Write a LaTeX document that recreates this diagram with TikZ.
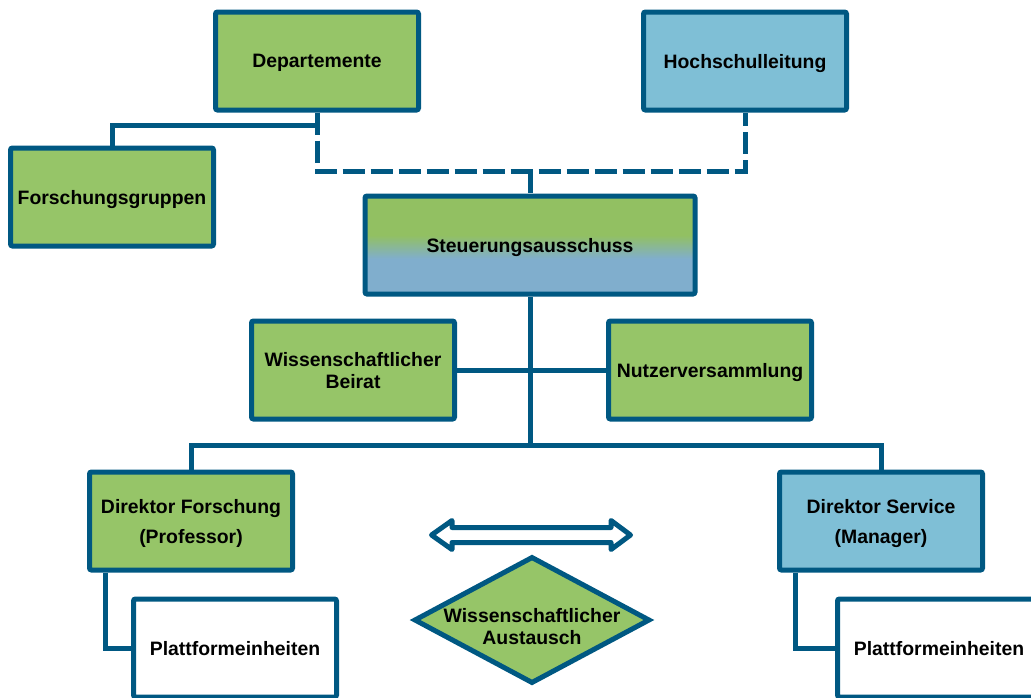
\documentclass[tikz,border=0pt]{standalone}
\usepackage{fontspec}
\setmainfont{Liberation Sans}
\usetikzlibrary{shapes.geometric}
\definecolor{linie}{RGB}{0,88,130}
\definecolor{gruen}{RGB}{150,197,104}
\definecolor{blau}{RGB}{127,191,214}
\definecolor{sgruen}{RGB}{146,192,98}
\definecolor{sblau}{RGB}{128,174,205}
\pgfdeclareverticalshading{gruenblau}{100bp}{color(0bp)=(sblau); color(43bp)=(sblau); color(55bp)=(sgruen); color(100bp)=(sgruen)}
\tikzset{kasten/.style={draw=linie, line width=5pt, rounded corners=2pt, minimum width=203pt, minimum height=98pt, inner sep=0pt, text depth=0pt, align=center, text=black, font=\bfseries\fontsize{19.4}{22}\selectfont},
 verbindung/.style={linie, line width=5pt},
 gestrichelt/.style={verbindung, dash pattern=on 22pt off 6pt}}

\begin{document}
\begin{tikzpicture}[x=1pt,y=-1pt]
   \useasboundingbox (0,0) rectangle (1031,697);
   % obere Ebene
   \node[kasten, fill=gruen] (dep) at (317,61) {Departemente};
   \node[kasten, fill=blau]  (hsl) at (745,61) {Hochschulleitung};
   \node[kasten, fill=gruen] (fg)  at (112,197) {Forschungsgruppen};
   \node[kasten, shading=gruenblau, minimum width=330pt] (steu) at (530,245) {Steuerungsausschuss};
   % Gremien
   \node[kasten, fill=gruen] (wb) at (353,370) {Wissenschaftlicher\\Beirat};
   \node[kasten, fill=gruen] (nv) at (710,370) {Nutzerversammlung};
   % Direktoren
   \node[kasten, fill=gruen] (dfo) at (191,521) {Direktor Forschung\\[8pt](Professor)};
   \node[kasten, fill=blau]  (dse) at (881,521) {Direktor Service\\[8pt](Manager)};
   \node[kasten, fill=white] (pf1) at (235,648) {Plattformeinheiten};
   \node[kasten, fill=white] (pf2) at (939,648) {Plattformeinheiten};
   % Austausch
   \node[diamond, draw=linie, fill=gruen, line width=5pt, minimum width=236pt, minimum height=127pt, inner sep=0pt] (aus) at (532,620) {};
   \node[font=\bfseries\fontsize{19.4}{22}\selectfont, align=center, inner sep=0pt] (austext) at (532,627) {Wissenschaftlicher\\Austausch};
   \draw[verbindung, fill=white, line join=round] (431.5,535) -- (452,520.5) -- (452,527.5) -- (611,527.5) -- (611,520.5)
        -- (630.5,535) -- (611,549.5) -- (611,542.5) -- (452,542.5) -- (452,549.5) -- cycle;
   % Verbindungen
   \coordinate (k1) at (317,125);
   \coordinate (k2) at (530,171);
   \coordinate (k3) at (530,445);
   \draw[gestrichelt] (dep.south) |- (k2) -| (hsl.south);
   \draw[gestrichelt] (k2) -- (steu.north);
   \draw[verbindung] (dep.south) -- (k1) -| (fg.north);
   \draw[verbindung] (steu.south) -- (k3);
   \draw[verbindung] (wb.east) -- (nv.west);
   \draw[verbindung] (dfo.north) |- (k3) -| (dse.north);
   \draw[verbindung] ([xshift=18.5pt]dfo.south west) |- (pf1.west);
   \draw[verbindung] ([xshift=18.5pt]dse.south west) |- (pf2.west);
\end{tikzpicture}
\end{document}
